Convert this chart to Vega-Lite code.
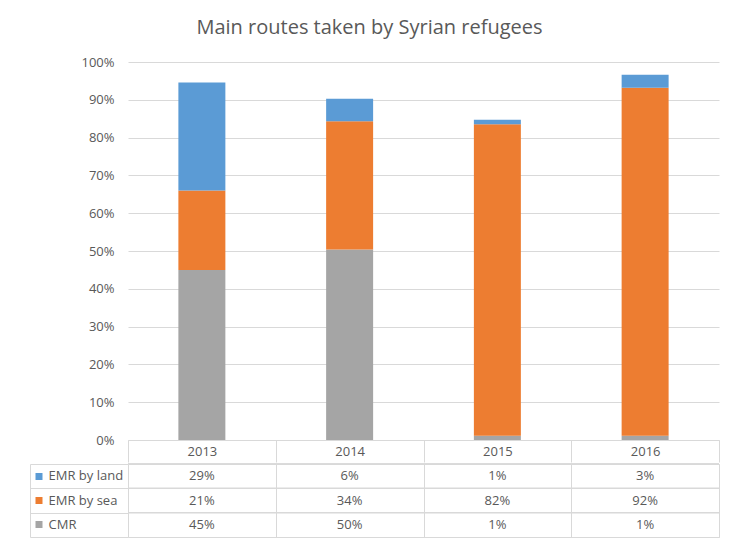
{
  "$schema": "https://vega.github.io/schema/vega-lite/v6.json",
  "padding": {"left": 29, "right": 19, "top": 18, "bottom": 9},
  "background": "white",
  "title": {"text": "Main routes taken by Syrian refugees", "font": "Open Sans", "fontSize": 20, "fontWeight": "normal", "color": "#595959", "anchor": "middle", "dx": -5, "offset": 18},
  "datasets": {
    "routes": [
      {"year": "2013", "route": "CMR", "order": 1, "value": 0.450},
      {"year": "2013", "route": "EMR by sea", "order": 2, "value": 0.210},
      {"year": "2013", "route": "EMR by land", "order": 3, "value": 0.286},
      {"year": "2014", "route": "CMR", "order": 1, "value": 0.504},
      {"year": "2014", "route": "EMR by sea", "order": 2, "value": 0.339},
      {"year": "2014", "route": "EMR by land", "order": 3, "value": 0.060},
      {"year": "2015", "route": "CMR", "order": 1, "value": 0.011},
      {"year": "2015", "route": "EMR by sea", "order": 2, "value": 0.824},
      {"year": "2015", "route": "EMR by land", "order": 3, "value": 0.012},
      {"year": "2016", "route": "CMR", "order": 1, "value": 0.011},
      {"year": "2016", "route": "EMR by sea", "order": 2, "value": 0.921},
      {"year": "2016", "route": "EMR by land", "order": 3, "value": 0.034}
    ]
  },
  "spacing": 0,
  "vconcat": [
    {
      "width": 591,
      "height": 378,
      "data": {"name": "routes"},
      "mark": {"type": "bar", "width": {"band": 0.318}},
      "encoding": {
        "x": {
          "field": "year", "type": "nominal", "sort": ["2013", "2014", "2015", "2016"],
          "scale": {"paddingInner": 0, "paddingOuter": 0},
          "axis": {"title": null, "labelAngle": 0, "labelFontSize": 13, "labelColor": "#595959", "labelFont": "Open Sans", "domain": true, "domainColor": "#d9d9d9", "ticks": true, "tickBand": "extent", "tickSize": 22, "tickColor": "#d9d9d9", "labelPadding": -17, "labelBaseline": "top", "grid": false}
        },
        "y": {
          "field": "value", "type": "quantitative", "stack": "zero",
          "scale": {"domain": [0, 1], "nice": false},
          "axis": {"title": null, "format": ".0%", "values": [0, 0.1, 0.2, 0.3, 0.4, 0.5, 0.6, 0.7, 0.8, 0.9, 1.0], "domain": false, "ticks": false, "labelPadding": 14, "labelFontSize": 13, "labelFont": "Open Sans", "labelColor": "#595959", "gridColor": "#d9d9d9"}
        },
        "color": {
          "field": "route", "type": "nominal",
          "scale": {"domain": ["CMR", "EMR by sea", "EMR by land"], "range": ["#a5a5a5", "#ed7d31", "#5b9bd5"]},
          "legend": null
        },
        "order": {"field": "order", "type": "quantitative", "sort": "ascending"}
      }
    },
    {
      "width": 591,
      "height": 73,
      "view": {"stroke": "#d9d9d9"},
      "data": {"name": "routes"},
      "resolve": {"axis": {"y": "independent"}},
      "layer": [
        {
          "mark": {"type": "rule", "color": "#d9d9d9", "strokeWidth": 1},
          "encoding": {
            "y": {
              "field": "route", "type": "nominal", "sort": ["EMR by land", "EMR by sea", "CMR"], "bandPosition": 0,
              "scale": {"paddingInner": 0, "paddingOuter": 0},
              "axis": {"orient": "left", "title": null, "domain": true, "domainColor": "#d9d9d9", "labels": false, "grid": false, "ticks": true, "tickBand": "extent", "tickSize": -98, "tickColor": "#d9d9d9", "offset": 98}
            }
          }
        },
        {
          "mark": {"type": "text", "fontSize": 13, "color": "#595959", "font": "Open Sans"},
          "encoding": {
            "x": {
              "field": "year", "type": "nominal", "sort": ["2013", "2014", "2015", "2016"],
              "scale": {"paddingInner": 0, "paddingOuter": 0},
              "axis": {"title": null, "labels": false, "ticks": false, "domain": false, "grid": true, "gridColor": "#d9d9d9", "tickBand": "extent"}
            },
            "y": {
              "field": "route", "type": "nominal", "sort": ["EMR by land", "EMR by sea", "CMR"],
              "axis": {"orient": "left", "title": null, "domain": false, "grid": false, "ticks": true, "tickSize": 7, "tickWidth": 7, "tickColor": {"condition": [{"test": "datum.value === 'CMR'", "value": "#a5a5a5"}, {"test": "datum.value === 'EMR by sea'", "value": "#ed7d31"}], "value": "#5b9bd5"}, "offset": 86, "labelAlign": "left", "labelPadding": -13, "labelFontSize": 13, "labelFont": "Open Sans", "labelColor": "#595959", "labelLimit": 0}
            },
            "text": {"field": "value", "type": "quantitative", "format": ".0%"}
          }
        }
      ]
    }
  ],
  "config": {"view": {"stroke": null}, "font": "Open Sans"}
}
